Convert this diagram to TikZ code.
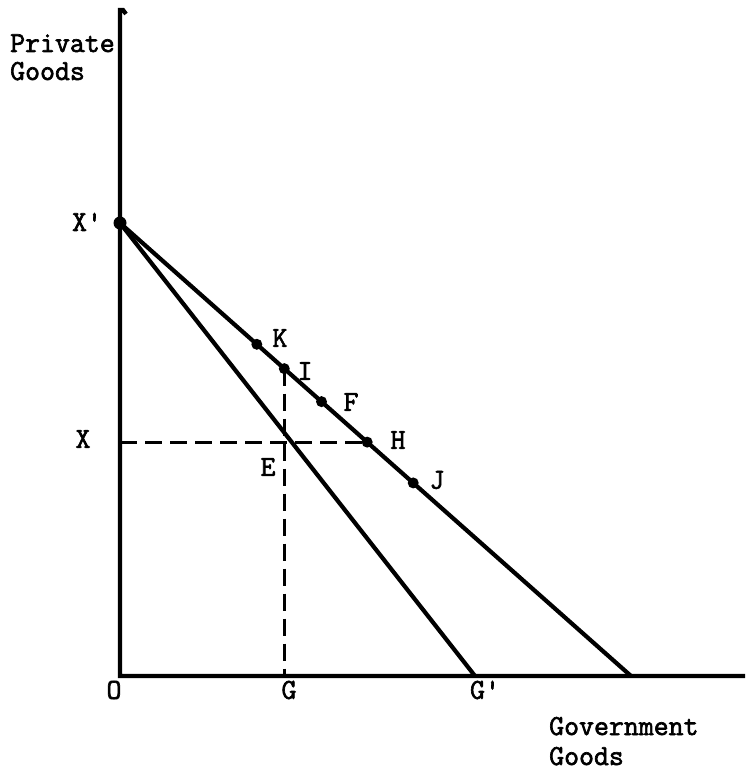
\documentclass[tikz,border=0pt]{standalone}
\usepackage{fontspec}
\newfontfamily\tw{Latin Modern Mono}[FakeBold=2.2]
\usetikzlibrary{calc}
\tikzset{
  axis/.style={line width=4.2pt},
  budget/.style={line width=4.2pt},
  guide/.style={line width=3.2pt, dash pattern=on 17pt off 8pt},
  dotmark/.style={circle, fill=black, inner sep=0pt, minimum size=11pt},
  lbl/.style={font=\tw\fontsize{29}{32}\selectfont, inner sep=0pt},
  txt/.style={font=\tw\fontsize{29}{32}\selectfont, inner sep=0pt, anchor=base west}
}
\begin{document}
\begin{tikzpicture}[x=1pt,y=-1pt]
\useasboundingbox (0,0) rectangle (745,775);
% axes
\coordinate (O) at (120,676);
\coordinate (top) at (120,10);
\coordinate (right) at (745,676);
\draw[axis] (126,14) -- (123,10) -- (top) -- (O) -- (right);
% budget lines
\coordinate (Xp) at (120,223);
\coordinate (oend) at (631,676);
\coordinate (Gp) at (475,676);
\draw[budget] (Xp) -- (oend);
\draw[budget] (Xp) -- (Gp);
% points on outer line
\coordinate (K) at ($(Xp)!(258,343)!(oend)$);
\coordinate (I) at ($(Xp)!(284,369)!(oend)$);
\coordinate (F) at ($(Xp)!(323,400)!(oend)$);
\coordinate (H) at ($(Xp)!(370,439)!(oend)$);
\coordinate (J) at ($(Xp)!(415,481)!(oend)$);
\coordinate (Xl) at (Xp |- H);
\coordinate (Gl) at (I |- O);
% dashed guides
\draw[guide] (Xl) -- (H);
\draw[guide] (I) -- (Gl);
% dots
\node[dotmark, minimum size=13pt] (dXp) at (Xp) {};
\node[dotmark] (dK) at (K) {};
\node[dotmark] (dI) at (I) {};
\node[dotmark] (dF) at (F) {};
\node[dotmark] (dH) at (H) {};
\node[dotmark] (dJ) at (J) {};
% labels
\node[lbl] (lXp) at (87,222) {X'};
\node[lbl] (lX) at (83,439) {X};
\node[lbl] (lK) at (280,338) {K};
\node[lbl] (lI) at (305,371) {I};
\node[lbl] (lF) at (351,402) {F};
\node[lbl] (lH) at (398,440) {H};
\node[lbl] (lE) at (268,467) {E};
\node[lbl] (lJ) at (437,480) {J};
\node[lbl] (lO) at (114,690) {O};
\node[lbl] (lG) at (289,690) {G};
\node[lbl] (lGp) at (485,690) {G'};
\node[txt] (t1) at (10,52) {Private};
\node[txt] (t2) at (10,80) {Goods};
\node[txt] (t3) at (549,735) {Government};
\node[txt] (t4) at (549,765) {Goods};
\end{tikzpicture}
\end{document}
